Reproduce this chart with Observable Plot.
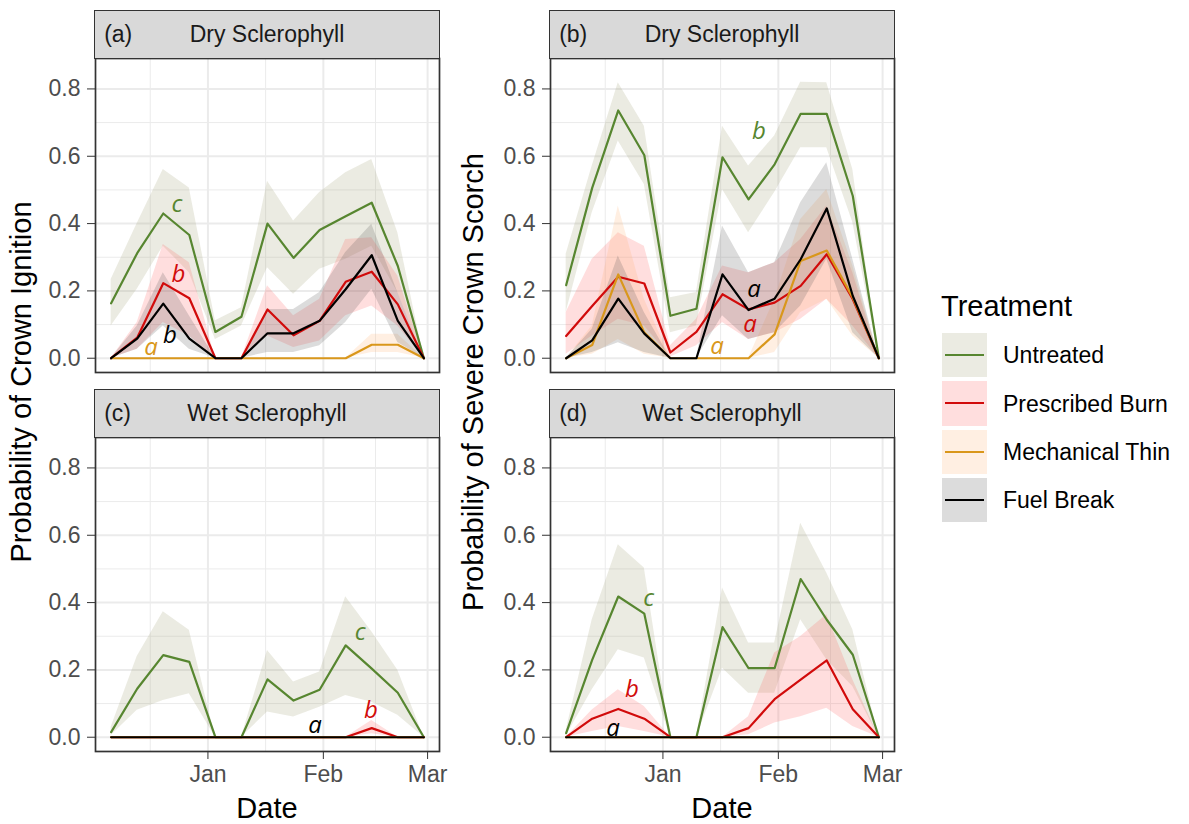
<!DOCTYPE html>
<html>
<head>
<meta charset="utf-8">
<script src="https://cdn.jsdelivr.net/npm/d3@7"></script>
<script src="https://cdn.jsdelivr.net/npm/@observablehq/plot@0.6"></script>
<style>
  body { margin: 0; background: #fff; }
  #root { position: relative; width: 1189px; height: 824px; overflow: hidden;
          font-family: "Liberation Sans", Arial, sans-serif; background: #fff; }
  .pl { position: absolute; }
  .strip { position: absolute; background: #D9D9D9; border: 1.7px solid #333; box-sizing: border-box;
           color: #1A1A1A; font-size: 23px; }
  .strip .tag { position: absolute; left: 9px; top: 0; bottom: 0; display: flex; align-items: center; }
  .strip .name { position: absolute; left: 0; right: 0; top: 0; bottom: 0; display: flex;
                 align-items: center; justify-content: center; }
  .ytitle { position: absolute; font-size: 29px; color: #000; white-space: nowrap; line-height: 1;
            transform: translate(-50%, -50%) rotate(-90deg); }
  .xtitle { position: absolute; font-size: 29px; color: #000; white-space: nowrap; line-height: 1;
            transform: translate(-50%, -50%); }
  .legtitle { position: absolute; font-size: 29px; color: #000; white-space: nowrap; line-height: 1; }
  .key { position: absolute; width: 45px; height: 44.5px; }
  .keyline { position: absolute; left: 3px; width: 39px; height: 2.4px; top: 21px; }
  .keytext { position: absolute; font-size: 23px; color: #000; white-space: nowrap; line-height: 1;
             transform: translateY(-50%); }
</style>
</head>
<body>
<div id="root"></div>
<script>
// ---------------- data ----------------
const dates = ["2018-12-06","2018-12-13","2018-12-20","2018-12-27","2019-01-03","2019-01-10","2019-01-17",
               "2019-01-24","2019-01-31","2019-02-07","2019-02-14","2019-02-21","2019-02-28"];
const treatments = ["Untreated", "Prescribed Burn", "Mechanical Thin", "Fuel Break"];
const lineColors = ["#578630", "#D10B0B", "#D9971B", "#000000"];
const ribbonColors = ["#9A9A70", "#FF5A5A", "#FFB070", "#505050"];

const yTicks = [0, 0.2, 0.4, 0.6, 0.8];
const yMinor = [0.1, 0.3, 0.5, 0.7];
const xTickDates = ["2019-01-01", "2019-02-01", "2019-03-01"];
const xTickLabels = ["Jan", "Feb", "Mar"];
const xMinorDates = ["2018-12-16T12:00Z", "2019-01-16T12:00Z", "2019-02-15"];

const stripTags = ["(a)", "(b)", "(c)", "(d)"];
const stripNames = ["Dry Sclerophyll", "Dry Sclerophyll", "Wet Sclerophyll", "Wet Sclerophyll"];
const yTitles = ["Probability of Crown Ignition", "Probability of Severe Crown Scorch"];
const xTitle = "Date";
const legendTitle = "Treatment";

// (a) Dry Sclerophyll – crown ignition
const aU   = [0.163,0.312,0.430,0.366,0.078,0.123,0.400,0.298,0.381,0.422,0.462,0.274,0];
const aUlo = [0.096,0.205,0.333,0.254,0.056,0.096,0.269,0.190,0.264,0.294,0.333,0.195,0];
const aUhi = [0.234,0.400,0.561,0.506,0.111,0.150,0.526,0.408,0.492,0.551,0.590,0.373,0];
const aP   = [0,0.061,0.223,0.178,0,0,0.145,0.068,0.111,0.227,0.257,0.160,0];
const aPlo = [0,0.027,0.106,0.066,0,0,0.066,0.032,0.051,0.126,0.155,0.096,0];
const aPhi = [0,0.106,0.338,0.284,0,0,0.215,0.126,0.175,0.353,0.358,0.244,0];
const aM   = [0,0,0,0,0,0,0,0,0,0,0.040,0.040,0];
const aMlo = [0,0,0,0,0,0,0,0,0,0,0.017,0.017,0];
const aMhi = [0,0,0,0,0,0,0,0,0,0,0.071,0.071,0];
const aF   = [0,0.058,0.162,0.058,0,0,0.074,0.074,0.111,0.205,0.306,0.111,0];
const aFlo = [0,0.027,0.096,0.027,0,0,0.017,0.017,0.037,0.106,0.205,0.047,0];
const aFhi = [0,0.096,0.254,0.126,0,0,0.145,0.145,0.195,0.314,0.398,0.195,0];

// (b) Dry Sclerophyll – severe crown scorch
const bU   = [0.217,0.506,0.736,0.603,0.126,0.147,0.597,0.472,0.576,0.726,0.726,0.482,0];
const bUlo = [0.136,0.432,0.645,0.516,0.076,0.096,0.501,0.373,0.492,0.625,0.625,0.403,0];
const bUhi = [0.309,0.571,0.818,0.689,0.180,0.195,0.689,0.571,0.660,0.820,0.818,0.561,0];
const bP   = [0.066,0.155,0.242,0.222,0.017,0.078,0.190,0.145,0.165,0.215,0.309,0.175,0];
const bPlo = [0.012,0.066,0.116,0.096,0.004,0.037,0.106,0.056,0.076,0.116,0.175,0.096,0];
const bPhi = [0.136,0.294,0.373,0.333,0.037,0.116,0.274,0.254,0.284,0.353,0.452,0.254,0];
const bM   = [0,0.039,0.249,0.076,0,0,0,0,0.071,0.289,0.320,0.180,0];
const bMlo = [0,0.012,0.056,0.012,0,0,0,0,0.017,0.136,0.175,0.066,0];
const bMhi = [0,0.096,0.452,0.175,0,0,0,0,0.175,0.412,0.501,0.274,0];
const bF   = [0,0.053,0.177,0.073,0,0,0.249,0.143,0.177,0.294,0.445,0.185,0];
const bFlo = [0,0.017,0.046,0.017,0,0,0.126,0.056,0.076,0.155,0.294,0.076,0];
const bFhi = [0,0.086,0.304,0.136,0,0,0.393,0.254,0.284,0.462,0.581,0.294,0];

// (c) Wet Sclerophyll – crown ignition
const cU   = [0.015,0.144,0.244,0.224,0,0,0.172,0.109,0.141,0.273,0.204,0.132,0];
const cUlo = [0.005,0.080,0.109,0.129,0,0,0.075,0.060,0.089,0.124,0.104,0.065,0];
const cUhi = [0.030,0.240,0.373,0.318,0,0,0.258,0.164,0.194,0.417,0.313,0.199,0];
const cP   = [0,0,0,0,0,0,0,0,0,0,0.027,0,0];
const cPlo = [0,0,0,0,0,0,0,0,0,0,0.010,0,0];
const cPhi = [0,0,0,0,0,0,0,0,0,0,0.050,0,0];
const cM   = [0,0,0,0,0,0,0,0,0,0,0,0,0];
const cMlo = [0,0,0,0,0,0,0,0,0,0,0,0,0];
const cMhi = [0,0,0,0,0,0,0,0,0,0,0,0,0];
const cF   = [0,0,0,0,0,0,0,0,0,0,0,0,0];
const cFlo = [0,0,0,0,0,0,0,0,0,0,0,0,0];
const cFhi = [0,0,0,0,0,0,0,0,0,0,0,0,0];

// (d) Wet Sclerophyll – severe crown scorch
const dU   = [0.012,0.230,0.418,0.367,0,0,0.327,0.205,0.205,0.470,0.349,0.245,0];
const dUlo = [0.004,0.141,0.260,0.235,0,0,0.205,0.131,0.131,0.349,0.230,0.151,0];
const dUhi = [0.020,0.349,0.572,0.503,0,0,0.443,0.280,0.280,0.636,0.488,0.319,0];
const dP   = [0,0.055,0.084,0.055,0,0,0,0.027,0.113,0.171,0.228,0.083,0];
const dPlo = [0,0.017,0.032,0.017,0,0,0,0.007,0.042,0.061,0.086,0.032,0];
const dPhi = [0,0.081,0.141,0.091,0,0,0,0.061,0.250,0.299,0.364,0.171,0];
const dM   = [0,0,0,0,0,0,0,0,0,0,0,0,0];
const dMlo = [0,0,0,0,0,0,0,0,0,0,0,0,0];
const dMhi = [0,0,0,0,0,0,0,0,0,0,0,0,0];
const dF   = [0,0,0,0,0,0,0,0,0,0,0,0,0];
const dFlo = [0,0,0,0,0,0,0,0,0,0,0,0,0];
const dFhi = [0,0,0,0,0,0,0,0,0,0,0,0,0];

// significance letters: text, treatment, day offset from 1 Jan 2019, value
const aLetters = ["c", "b", "b", "a"];
const aLetterTreat = ["Untreated", "Prescribed Burn", "Fuel Break", "Mechanical Thin"];
const aLetterDay = [-8.3, -7.9, -10.2, -15.3];
const aLetterVal = [0.457, 0.249, 0.068, 0.033];
const bLetters = ["b", "a", "a", "a"];
const bLetterTreat = ["Untreated", "Fuel Break", "Prescribed Burn", "Mechanical Thin"];
const bLetterDay = [25.8, 24.5, 23.4, 14.5];
const bLetterVal = [0.673, 0.205, 0.101, 0.036];
const cLetters = ["c", "b", "a"];
const cLetterTreat = ["Untreated", "Prescribed Burn", "Fuel Break"];
const cLetterDay = [40.9, 43.8, 28.8];
const cLetterVal = [0.313, 0.081, 0.036];
const dLetters = ["c", "b", "a"];
const dLetterTreat = ["Untreated", "Prescribed Burn", "Fuel Break"];
const dLetterDay = [-3.8, -8.3, -13.4];
const dLetterVal = [0.414, 0.141, 0.025];

// ---------------- build ----------------
const parse = s => new Date(s.length === 10 ? s + "T00:00Z" : s);
const dateObjs = dates.map(parse);
const DAY = 864e5;
const span = dateObjs[dateObjs.length - 1] - dateObjs[0];
const xDomain = [new Date(+dateObjs[0] - 0.05 * span), new Date(+dateObjs[dateObjs.length - 1] + 0.05 * span)];
const allHi = [aUhi, bUhi, cUhi, dUhi, aPhi, bPhi, bMhi, bFhi].flat();
const yMax = 0.848; // upper extent of ribbons (shared scale)
const yDomain = [-0.05 * yMax, yMax * 1.05];
const jan1 = Date.UTC(2019, 0, 1);

function rows(sets) {
  const out = [];
  sets.forEach(([est, lo, hi], k) => {
    dateObjs.forEach((d, i) => out.push({date: d, treatment: treatments[k], est: est[i], lo: lo[i], hi: hi[i]}));
  });
  return out;
}
function letters(txt, tr, day, val) {
  return txt.map((t, i) => ({t, treatment: tr[i], date: new Date(jan1 + day[i] * DAY), value: val[i]}));
}

const panels = [
  {data: rows([[aU,aUlo,aUhi],[aP,aPlo,aPhi],[aM,aMlo,aMhi],[aF,aFlo,aFhi]]), lab: letters(aLetters,aLetterTreat,aLetterDay,aLetterVal), showX: false, left: 0, top: 54},
  {data: rows([[bU,bUlo,bUhi],[bP,bPlo,bPhi],[bM,bMlo,bMhi],[bF,bFlo,bFhi]]), lab: letters(bLetters,bLetterTreat,bLetterDay,bLetterVal), showX: false, left: 455, top: 54},
  {data: rows([[cU,cUlo,cUhi],[cP,cPlo,cPhi],[cM,cMlo,cMhi],[cF,cFlo,cFhi]]), lab: letters(cLetters,cLetterTreat,cLetterDay,cLetterVal), showX: true, left: 0, top: 433},
  {data: rows([[dU,dUlo,dUhi],[dP,dPlo,dPhi],[dM,dMlo,dMhi],[dF,dFlo,dFhi]]), lab: letters(dLetters,dLetterTreat,dLetterDay,dLetterVal), showX: true, left: 455, top: 433}
];

const root = document.getElementById("root");
const M = {left: 95, right: 4, top: 4, panelH: 314, bottomX: 52, bottom: 4};
const W = 443;

panels.forEach((p, idx) => {
  const marks = [
    Plot.gridX(xMinorDates.map(parse), {stroke: "#EBEBEB", strokeOpacity: 1, strokeWidth: 1}),
    Plot.gridY(yMinor, {stroke: "#EBEBEB", strokeOpacity: 1, strokeWidth: 1}),
    Plot.gridX(xTickDates.map(parse), {stroke: "#EBEBEB", strokeOpacity: 1, strokeWidth: 2}),
    Plot.gridY(yTicks, {stroke: "#EBEBEB", strokeOpacity: 1, strokeWidth: 2}),
  ];
  treatments.forEach((t, k) => {
    marks.push(Plot.areaY(p.data.filter(d => d.treatment === t),
      {x: "date", y1: "lo", y2: "hi", fill: ribbonColors[k], fillOpacity: 0.2}));
  });
  marks.push(Plot.lineY(p.data, {x: "date", y: "est", stroke: "treatment", z: "treatment", strokeWidth: 2.2}));
  marks.push(Plot.text(p.lab, {x: "date", y: "value", text: "t", fill: "treatment", fontSize: 24,
    fontStyle: "italic", fontFamily: "'Open Sans', 'Liberation Sans', sans-serif",
    textAnchor: "middle", lineAnchor: "middle"}));
  marks.push(Plot.axisY(yTicks, {tickSize: 8, tickPadding: 7, tickFormat: d3.format(".1f"), label: null,
    fontSize: 23, stroke: "#333", fill: "#4D4D4D"}));
  if (p.showX) {
    const tds = xTickDates.map(parse);
    marks.push(Plot.axisX(tds, {tickSize: 8, tickPadding: 6, label: null, fontSize: 23, stroke: "#333", fill: "#4D4D4D",
      tickFormat: d => xTickLabels[tds.findIndex(t => +t === +d)]}));
  }
  marks.push(Plot.frame({stroke: "#333", strokeWidth: 1.7}));

  const mb = p.showX ? M.bottomX : M.bottom;
  const svg = Plot.plot({
    width: W, height: M.top + M.panelH + mb,
    marginLeft: M.left, marginRight: M.right, marginTop: M.top, marginBottom: mb,
    x: {type: "utc", domain: xDomain, axis: null},
    y: {domain: yDomain, axis: null},
    color: {domain: treatments, range: lineColors},
    style: {fontFamily: "'Liberation Sans', Arial, sans-serif", fontSize: "23px", color: "#4D4D4D",
            background: "transparent", overflow: "visible"},
    marks
  });
  const holder = document.createElement("div");
  holder.className = "pl";
  holder.style.left = p.left + "px";
  holder.style.top = p.top + "px";
  holder.appendChild(svg);
  root.appendChild(holder);

  // strip
  const px0 = p.left + M.left;
  const pw = W - M.left - M.right;
  const ptop = p.top + M.top;
  const strip = document.createElement("div");
  strip.className = "strip";
  strip.style.left = (px0 - 0.85) + "px";
  strip.style.width = (pw + 1.7) + "px";
  strip.style.top = (ptop - 48) + "px";
  strip.style.height = (48 + 0.85) + "px";
  strip.innerHTML = `<span class="name">${stripNames[idx]}</span><span class="tag">${stripTags[idx]}</span>`;
  root.appendChild(strip);
});

// axis titles
[21, 473].forEach((x, i) => {
  const el = document.createElement("div");
  el.className = "ytitle";
  el.style.left = x + "px"; el.style.top = "382px";
  el.textContent = yTitles[i];
  root.appendChild(el);
});
[267, 722].forEach(x => {
  const el = document.createElement("div");
  el.className = "xtitle";
  el.style.left = x + "px"; el.style.top = "808px";
  el.textContent = xTitle;
  root.appendChild(el);
});

// legend
const lt = document.createElement("div");
lt.className = "legtitle";
lt.style.left = "941px"; lt.style.top = "292px";
lt.textContent = legendTitle;
root.appendChild(lt);
treatments.forEach((t, k) => {
  const top = 332.7 + k * 48.4;
  const key = document.createElement("div");
  key.className = "key";
  key.style.left = "941.7px"; key.style.top = top + "px";
  const c = d3.color(ribbonColors[k]); c.opacity = 0.2;
  key.style.background = c.formatRgb();
  const ln = document.createElement("div");
  ln.className = "keyline";
  ln.style.background = lineColors[k];
  key.appendChild(ln);
  root.appendChild(key);
  const tx = document.createElement("div");
  tx.className = "keytext";
  tx.style.left = "1003px"; tx.style.top = (top + 22.5) + "px";
  tx.textContent = t;
  root.appendChild(tx);
});
</script>
</body>
</html>
